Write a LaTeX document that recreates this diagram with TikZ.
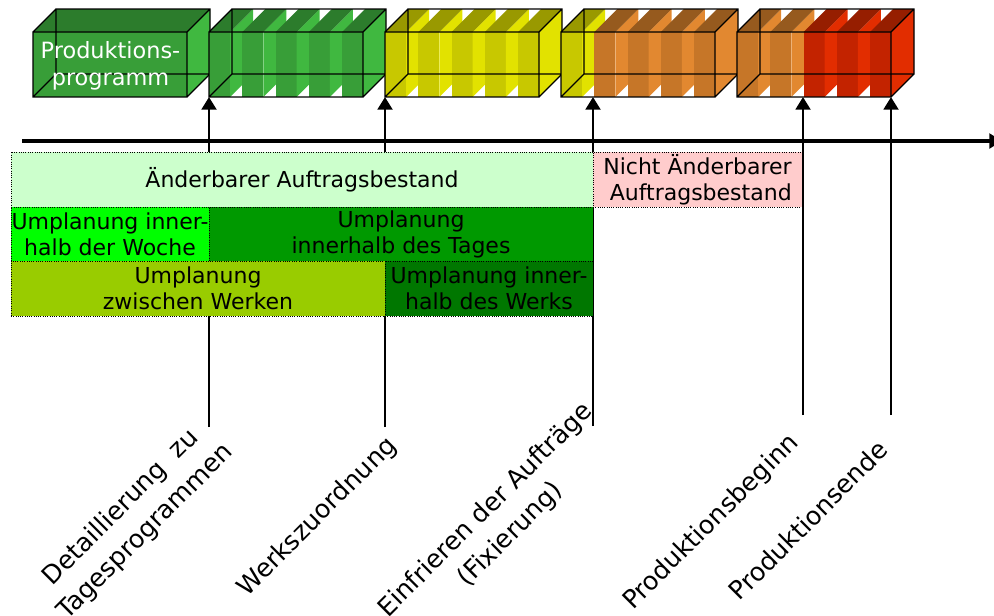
\documentclass[tikz,border=0pt]{standalone}
\usepackage{fontspec}
\setmainfont{DejaVu Sans}
\usetikzlibrary{arrows.meta}

% block colours: F = front face, S = side face, T = top face
\definecolor{gnF}{RGB}{56,158,56}
\definecolor{gnS}{RGB}{64,184,64}
\definecolor{gnT}{RGB}{44,124,44}
\definecolor{yeF}{RGB}{200,200,0}
\definecolor{yeS}{RGB}{226,226,0}
\definecolor{yeT}{RGB}{153,153,0}
\definecolor{orF}{RGB}{198,118,40}
\definecolor{orS}{RGB}{226,136,48}
\definecolor{orT}{RGB}{150,90,30}
\definecolor{rdF}{RGB}{195,35,0}
\definecolor{rdS}{RGB}{226,45,0}
\definecolor{rdT}{RGB}{150,30,0}
% cell colours
\definecolor{cellA}{RGB}{204,255,204}
\definecolor{cellN}{RGB}{255,204,204}
\definecolor{cellW}{RGB}{0,255,0}
\definecolor{cellT}{RGB}{0,153,0}
\definecolor{cellZ}{RGB}{153,204,0}
\definecolor{cellI}{RGB}{0,119,0}

% one slice of a block: front face, right side face, top face
\newcommand\blockslice[4]{%
  \fill[#2] (#1,32) rectangle ({#1+21},97);
  \fill[#3] ({#1+21},32) -- ({#1+44},9) -- ({#1+44},74) -- ({#1+21},97) -- cycle;
  \fill[#4] (#1,32) -- ({#1+23},9) -- ({#1+44},9) -- ({#1+21},32) -- cycle;
}
% wire frame of a whole block, hidden edges included
\newcommand\blockframe[1]{%
  \draw[edge] (#1,32) rectangle ({#1+154},97)
              ({#1+23},9) rectangle ({#1+177},74)
              (#1,32) -- ({#1+23},9)
              ({#1+154},32) -- ({#1+177},9)
              ({#1+154},97) -- ({#1+177},74)
              (#1,97) -- ({#1+23},74);
}

\begin{document}
\begin{tikzpicture}[x=0.75pt, y=-0.75pt,
  edge/.style={line width=0.85pt, black},
  marker/.style={line width=2.2pt, black, -{Triangle[width=11pt,length=9.5pt]}},
  axis/.style={line width=2.4pt, black, -{Triangle[width=11pt,length=9.5pt]}},
  cell/.style={draw=black, densely dotted, line width=0.7pt, inner sep=0pt,
    outer sep=0pt, anchor=north west, align=center,
    font=\fontsize{16.5pt}{19.5pt}\selectfont},
  lbl/.style={rotate=45, anchor=east, inner sep=0pt, align=center,
    font=\fontsize{19pt}{26pt}\selectfont},
  prog/.style={text=white, inner sep=0pt, align=center,
    font=\fontsize{16.8pt}{20.5pt}\selectfont}]
\useasboundingbox (0,0) rectangle (994,615);

% ---- production programme block (solid)
\fill[gnF] (33,32) rectangle (187,97);
\fill[gnS] (187,32) -- (210,9) -- (210,74) -- (187,97) -- cycle;
\fill[gnT] (33,32) -- (56,9) -- (210,9) -- (187,32) -- cycle;
\blockframe{33}
\node[prog] (prog) at (110.5,66) {Produktions-\\programm};

% ---- sliced blocks
\foreach \k in {0,...,4}{\pgfmathsetmacro\sx{209+33.25*\k}\blockslice{\sx}{gnF}{gnS}{gnT}}
\blockframe{209}
\foreach \k in {0,...,4}{\pgfmathsetmacro\sx{385+33.25*\k}\blockslice{\sx}{yeF}{yeS}{yeT}}
\blockframe{385}
\pgfmathsetmacro\sx{561}\blockslice{\sx}{yeF}{yeS}{yeT}
\foreach \k in {1,...,4}{\pgfmathsetmacro\sx{561+33.25*\k}\blockslice{\sx}{orF}{orS}{orT}}
\blockframe{561}
\foreach \k in {0,1}{\pgfmathsetmacro\sx{737+33.25*\k}\blockslice{\sx}{orF}{orS}{orT}}
\foreach \k in {2,3,4}{\pgfmathsetmacro\sx{737+33.25*\k}\blockslice{\sx}{rdF}{rdS}{rdT}}
\blockframe{737}

% ---- arrow ends
\coordinate (p1) at (209,97);
\coordinate (p2) at (385,97);
\coordinate (p3) at (593,97);
\coordinate (p4) at (803,97);
\coordinate (p5) at (891,97);
\coordinate (q1) at (209,427);
\coordinate (q2) at (385,427);
\coordinate (q3) at (593,426);
\coordinate (q4) at (803,415);
\coordinate (q5) at (891,415);

\draw[marker] (q1) -- (p1);
\draw[marker] (q2) -- (p2);
\draw[marker] (q3) -- (p3);
\draw[marker] (q4) -- (p4);
\draw[marker] (q5) -- (p5);

% ---- time axis
\coordinate (ax0) at (22,141);
\coordinate (ax1) at (1002,141);
\draw[axis] (ax0) -- (ax1);

% ---- order stock and re-planning cells
\node[cell, fill=cellA, minimum width=436.5pt, minimum height=41.25pt] (aend) at (11,152)
  {Änderbarer Auftragsbestand};
\node[cell, fill=cellN, minimum width=156.75pt, minimum height=41.25pt, align=right] (nicht) at (593,152)
  {Nicht Änderbarer\\Auftragsbestand};
\node[cell, fill=cellW, minimum width=148.5pt, minimum height=40.5pt] (woche) at (11,207)
  {Umplanung inner-\\halb der Woche};
\node[cell, fill=cellT, minimum width=288pt, minimum height=40.5pt] (tag) at (209,207)
  {Umplanung\\innerhalb des Tages};
\node[cell, fill=cellZ, minimum width=280.5pt, minimum height=41.25pt] (zw) at (11,261)
  {Umplanung\\zwischen Werken};
\node[cell, fill=cellI, minimum width=156pt, minimum height=41.25pt] (werk) at (385,261)
  {Umplanung inner-\\halb des Werks};

% ---- milestone labels
\node[lbl] (l1) at (217,436) {Detaillierung\ \ zu\\Tagesprogrammen};
\node[lbl] (l2) at (393,442) {Werkszuordnung};
\node[lbl] (l3) at (601,420) {Einfrieren der Aufträge\\(Fixierung)};
\node[lbl] (l4) at (795,439) {Produktionsbeginn};
\node[lbl] (l5) at (883,445) {Produktionsende};
\end{tikzpicture}
\end{document}
